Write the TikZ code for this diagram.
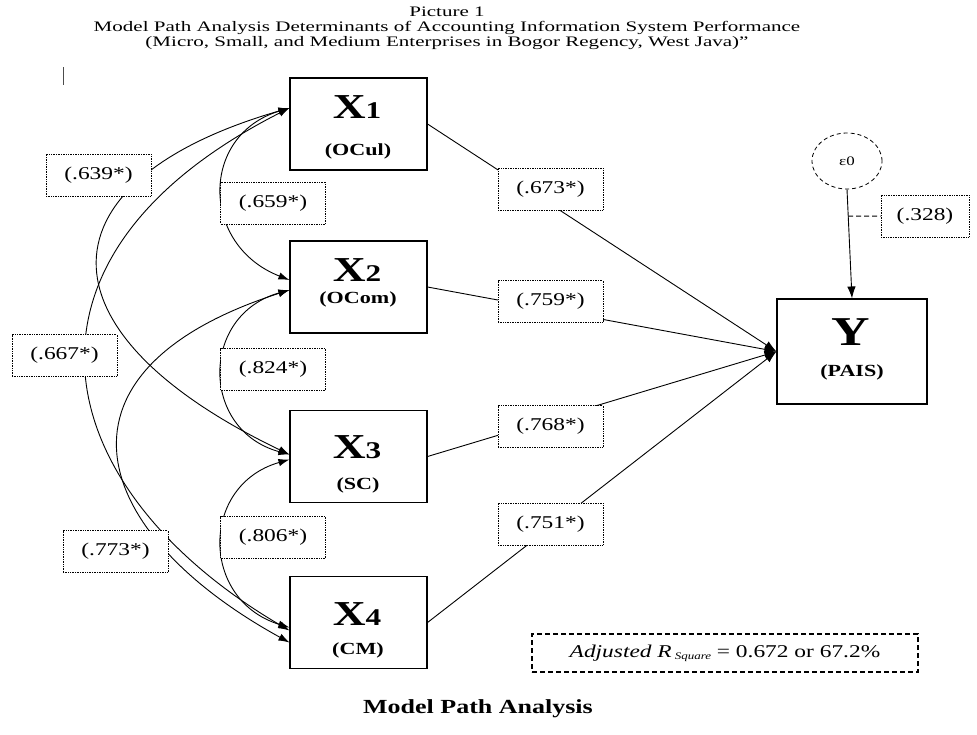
\documentclass[tikz,border=0pt]{standalone}
\usepackage{fontspec}
\setmainfont{Liberation Serif}[FakeStretch=1.3]
\newfontfamily\titlefont{Liberation Serif}[FakeStretch=1.45]
\usetikzlibrary{arrows.meta,shapes.geometric,calc}
\newcommand{\fsz}[1]{\fontsize{#1}{#1}\selectfont}
\begin{document}
\begin{tikzpicture}[x=1pt,y=-1pt,
  varbox/.style={draw,line width=1.1pt,minimum width=137pt,minimum height=92pt,inner sep=0pt},
  coef/.style={draw,densely dotted,line width=0.7pt,fill=white,minimum width=105pt,
    minimum height=42pt,inner sep=0pt,font=\fsz{18}},
  effect/.style={line width=0.9pt,-{Latex[length=12pt,width=8.5pt]}},
  corr/.style={line width=0.9pt,{Latex[length=11pt,width=7.5pt]}-{Latex[length=11pt,width=7.5pt]}},
  bigvar/.style={anchor=base,inner sep=0pt,font=\bfseries},
  subname/.style={anchor=base,inner sep=0pt,font=\bfseries\fsz{17}}]
\useasboundingbox (0,0) rectangle (977,734);

% heading
\node[align=center,inner sep=0pt,font=\titlefont\fontsize{14.5}{15}\selectfont] (title) at (447,28)
  {Picture 1\\Model Path Analysis Determinants of Accounting Information System Performance\\
   (Micro, Small, and Medium Enterprises in Bogor Regency, West Java)”};
\draw[line width=0.6pt,black!70] (63,67) -- (63,85);

% variable boxes
\node[varbox] (X1) at (358.5,124) {};
\node[varbox] (X2) at (358.5,287) {};
\node[varbox] (X3) at (358.5,456.5) {};
\node[varbox] (X4) at (358.5,622.5) {};
\node[draw,line width=1.1pt,minimum width=150pt,minimum height=105pt,inner sep=0pt] (Y) at (852,351.5) {};

\node[bigvar] (X1t) at (357,118) {\fsz{35}X\fsz{24}1};
\node[subname] (X1s) at (358,155) {(OCul)};
\node[bigvar] (X2t) at (357,281) {\fsz{35}X\fsz{24}2};
\node[subname] (X2s) at (358,303) {(OCom)};
\node[bigvar] (X3t) at (357,458) {\fsz{35}X\fsz{24}3};
\node[subname] (X3s) at (358,489) {(SC)};
\node[bigvar] (X4t) at (357,625) {\fsz{35}X\fsz{24}4};
\node[subname] (X4s) at (358,654) {(CM)};
\node[bigvar] (Yt) at (851,345) {\fsz{41}Y};
\node[subname] (Ys) at (852,376) {(PAIS)};

% error term
\node[draw,ellipse,dashed,dash pattern=on 4pt off 3pt,line width=0.8pt,minimum width=70pt,
  minimum height=56pt,inner sep=0pt,font=\fsz{13}] (e0) at (847,161) {ε0};

% arrow ends on the left sides of the boxes
\coordinate (x1a) at ($(X1.west)+(0,-16)$);
\coordinate (x2a) at ($(X2.west)+(0,-7)$);
\coordinate (x2b) at ($(X2.west)+(0,3)$);
\coordinate (x3a) at ($(X3.west)+(0,-2)$);
\coordinate (x3b) at ($(X3.west)+(0,3)$);
\coordinate (x4a) at ($(X4.west)+(0,5)$);
\coordinate (x4b) at ($(X4.west)+(0,8)$);
\coordinate (x4c) at ($(X4.west)+(0,20)$);

% direct effects
\draw[effect] (X1.east) -- (Y.west);
\draw[effect] (X2.east) -- (Y.west);
\draw[effect] (X3.east) -- (Y.west);
\draw[effect] (X4.east) -- (Y.west);
\draw[effect] (e0.south) -- coordinate[pos=0.245] (ebend) (Y.north);

% correlations between the exogenous variables
\draw[corr] (x1a) .. controls (200,135) and (200,245) .. (x2a);
\draw[corr] (x2b) .. controls (200,315) and (200,430) .. (x3a);
\draw[corr] (x3b) .. controls (200,485) and (200,600) .. (x4a);
\draw[corr] (x1a) .. controls (40,180) and (30,330) .. (x3a);
\draw[corr] (x1a) .. controls (-10,260) and (50,490) .. (x4b);
\draw[corr] (x2b) .. controls (40,370) and (85,530) .. (x4c);

% coefficients
\node[coef] (c673) at (550.5,189) {(.673*)};
\node[coef] (c759) at (550.5,301.5) {(.759*)};
\node[coef] (c768) at (550.5,426.5) {(.768*)};
\node[coef] (c751) at (550.5,524) {(.751*)};
\node[coef] (c639) at (98.5,175) {(.639*)};
\node[coef] (c659) at (273,203) {(.659*)};
\node[coef] (c667) at (64.5,355.5) {(.667*)};
\node[coef] (c824) at (273,369.5) {(.824*)};
\node[coef] (c806) at (273,537.5) {(.806*)};
\node[coef] (c773) at (115.5,551.5) {(.773*)};
\node[coef,minimum width=88pt] (c328) at (925,216) {(.328)};
\draw[line width=1pt,black,dash pattern=on 5pt off 3pt] (ebend) -- (c328.west);

% model fit
\node[draw,line width=1.5pt,dash pattern=on 5pt off 3pt,minimum width=386pt,minimum height=38pt,
  inner sep=0pt,font=\fsz{18}] (fit) at (725,653)
  {\textit{Adjusted R}\,\raisebox{-2pt}{\fsz{10}\textit{Square}} = 0.672 or 67.2\%};

% caption
\node[inner sep=0pt,font=\bfseries\fsz{20}] (cap) at (478,709) {Model Path Analysis};
\end{tikzpicture}
\end{document}
